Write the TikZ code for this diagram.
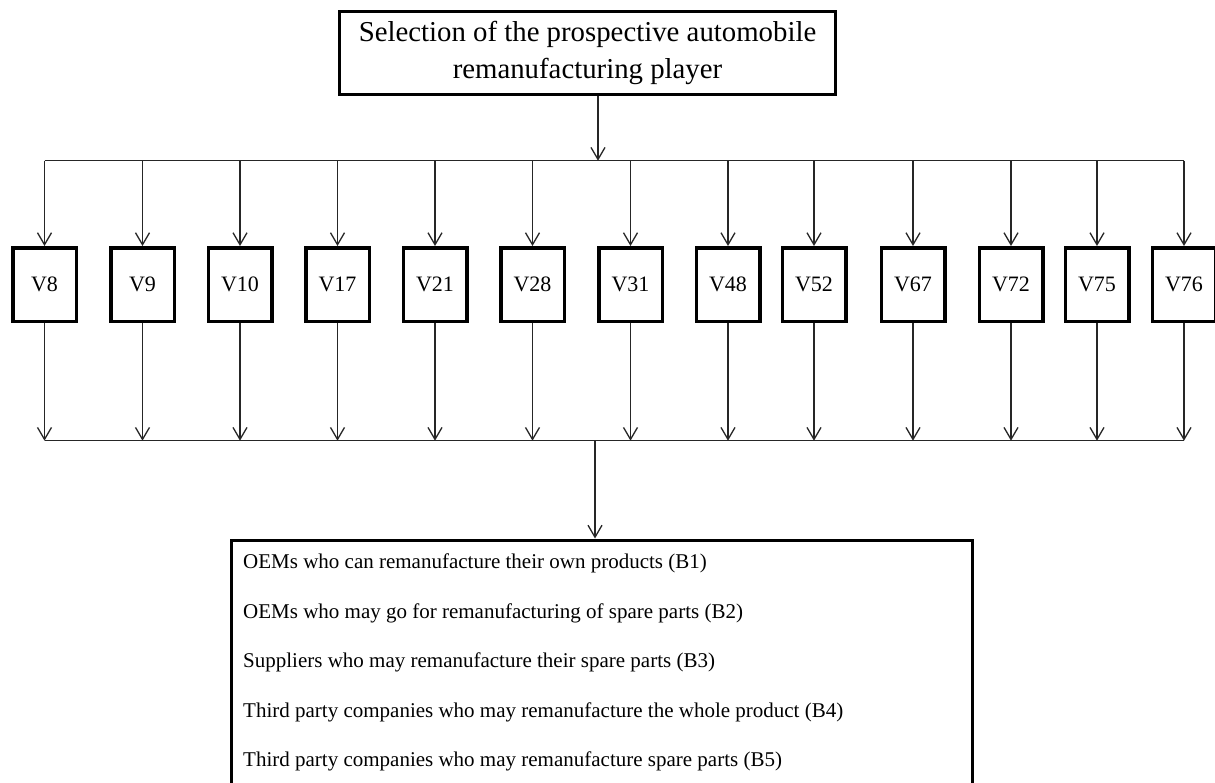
\documentclass[tikz,border=0pt]{standalone}
\usepackage{fontspec}
\setmainfont{Liberation Serif}
\usetikzlibrary{arrows.meta}
\begin{document}
\begin{tikzpicture}[x=1pt,y=-1pt,
  conn/.style={line width=1.3pt, draw=black!85},
  arr/.style={conn,-{Straight Barb[length=12pt,width=14pt,line width=1.3pt]}},
  vbox/.style={draw,line width=3.5pt,minimum width=63.5pt,minimum height=73.5pt,inner sep=0pt,font=\fontsize{22}{26}\selectfont},
  topbox/.style={draw,line width=3pt,minimum width=496pt,minimum height=83pt,inner sep=0pt,align=center,font=\fontsize{28.8}{37}\selectfont},
  resbox/.style={draw,line width=3pt,inner sep=0pt},
  restext/.style={anchor=base west,inner sep=0pt,font=\fontsize{21}{25}\selectfont}
]
\useasboundingbox (0,0) rectangle (1215,782);
\clip (0,0) rectangle (1215,782);
\fill[white] (0,0) rectangle (1215,782);

\node[topbox] (top) at (587.5,53) {Selection of the prospective automobile\\remanufacturing player};

\coordinate (tj) at (598,160.7);
\coordinate (bj) at (595,440.7);

\foreach \n/\x in {8/44.5,9/142.5,10/240,17/337.5,21/435,28/532.5,31/630.5,48/728,52/814,67/913,72/1011,75/1097,76/1184}{
  \node[vbox] (v\n) at (\x,284.5) {V\n};
  \draw[arr] (v\n |- tj) -- (v\n.north);
  \draw[arr] (v\n.south) -- (v\n |- bj);
}

\draw[arr] (top.south -| tj) -- (tj);
\draw[conn] (v8 |- tj) -- (v76 |- tj);
\draw[conn] (v8 |- bj) -- (v76 |- bj);

\node[resbox,anchor=north west,minimum width=741pt,minimum height=300pt] (res) at (229.5,538.5) {};
\draw[arr] (bj) -- (bj |- res.north);

\node[restext] (b1) at (243,568.5) {OEMs who can remanufacture their own products (B1)};
\node[restext] (b2) at (243,618) {OEMs who may go for remanufacturing of spare parts (B2)};
\node[restext] (b3) at (243,667.5) {Suppliers who may remanufacture their spare parts (B3)};
\node[restext] (b4) at (243,717) {Third party companies who may remanufacture the whole product (B4)};
\node[restext] (b5) at (243,766.5) {Third party companies who may remanufacture spare parts (B5)};
\end{tikzpicture}
\end{document}
